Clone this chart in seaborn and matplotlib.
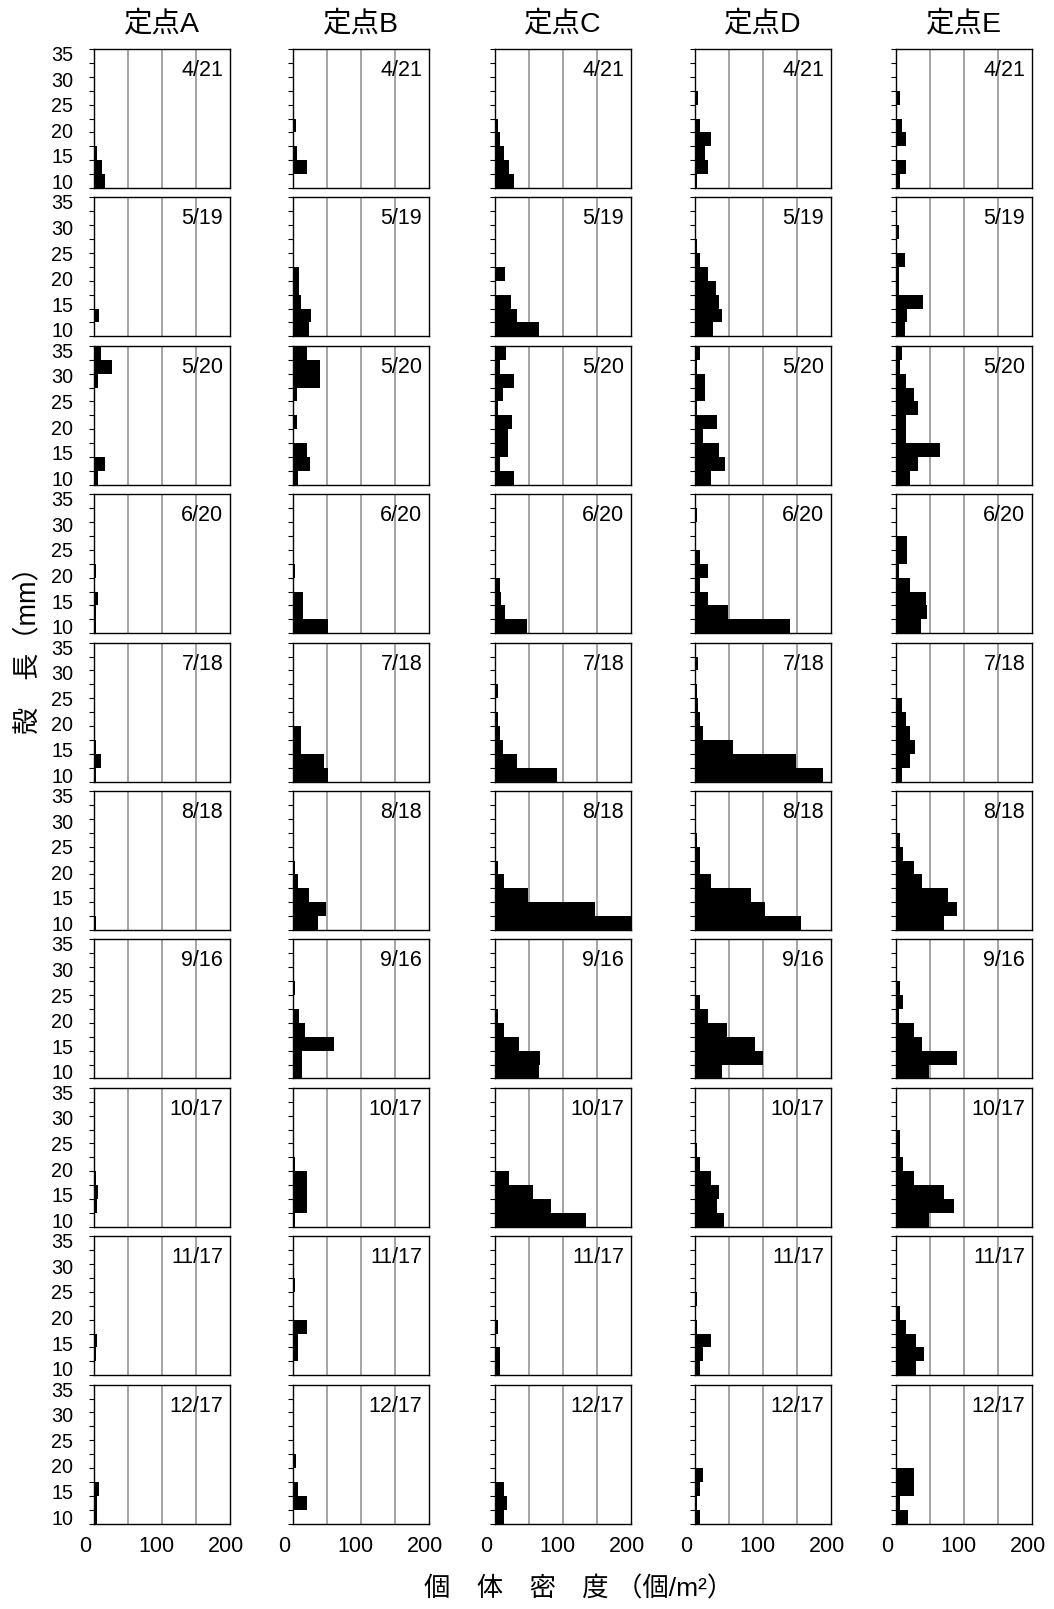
import numpy as np
import pandas as pd
import matplotlib
matplotlib.use("Agg")
import matplotlib.pyplot as plt
import seaborn as sns
from matplotlib.transforms import ScaledTranslation

sns.set_theme(style="white")
plt.rcParams["font.family"] = ["Liberation Sans", "Noto Sans CJK JP"]

# ---------------- data ----------------
sites = ["定点A", "定点B", "定点C", "定点D", "定点E"]
dates = ["4/21", "5/19", "5/20", "6/20", "7/18", "8/18", "9/16", "10/17", "11/17", "12/17"]
bin_edges = [10, 12.5, 15, 17.5, 20, 22.5, 25, 27.5, 30, 32.5, 35]
bin_centers = [11.25, 13.75, 16.25, 18.75, 21.25, 23.75, 26.25, 28.75, 31.25, 33.75]
x_ticks = [0, 100, 200]
y_labels = [10, 15, 20, 25, 30, 35]

# density (個/m2) per shell-length class (10-12.5, 12.5-15, ... 32.5-35 mm), one row per date
site_A = [
    [16, 12, 4, 0, 0, 0, 0, 0, 0, 0],
    [0, 7, 0, 0, 0, 0, 0, 0, 0, 0],
    [6, 16, 2, 2, 0, 0, 2, 6, 27, 10],
    [3, 3, 6, 0, 3, 0, 0, 0, 0, 0],
    [3, 10, 3, 0, 0, 0, 0, 0, 0, 0],
    [3, 0, 2, 2, 2, 2, 0, 0, 0, 0],
    [0, 2, 2, 2, 0, 0, 0, 0, 0, 0],
    [0, 4, 6, 3, 0, 0, 0, 0, 0, 0],
    [2, 3, 5, 2, 0, 0, 0, 0, 0, 0],
    [4, 4, 8, 0, 0, 0, 0, 0, 0, 0],
]
site_B = [
    [0, 20, 6, 0, 4, 0, 0, 0, 0, 0],
    [24, 27, 12, 9, 9, 0, 0, 0, 0, 0],
    [7, 25, 20, 0, 6, 0, 6, 40, 40, 20],
    [51, 15, 15, 0, 3, 0, 0, 0, 0, 0],
    [52, 45, 12, 12, 0, 0, 0, 0, 0, 0],
    [37, 48, 24, 7, 3, 0, 0, 0, 0, 0],
    [13, 13, 60, 18, 9, 0, 3, 0, 0, 0],
    [3, 20, 20, 20, 3, 0, 0, 0, 0, 0],
    [0, 7, 7, 20, 0, 0, 3, 0, 0, 0],
    [0, 21, 8, 0, 5, 0, 0, 0, 0, 0],
]
site_C = [
    [28, 20, 13, 8, 5, 0, 0, 0, 0, 0],
    [64, 32, 24, 0, 15, 0, 0, 0, 0, 0],
    [28, 8, 19, 19, 25, 4, 12, 28, 8, 16],
    [47, 15, 9, 7, 0, 0, 0, 0, 0, 0],
    [91, 32, 12, 7, 5, 0, 4, 0, 0, 0],
    [205, 147, 48, 13, 5, 0, 0, 0, 0, 0],
    [64, 66, 36, 13, 5, 0, 0, 0, 0, 0],
    [134, 83, 56, 20, 0, 0, 0, 0, 0, 0],
    [8, 8, 0, 5, 0, 0, 0, 0, 0, 0],
    [13, 17, 13, 0, 0, 0, 0, 0, 0, 0],
]
site_D = [
    [3, 19, 15, 24, 8, 0, 4, 0, 0, 0],
    [27, 39, 35, 31, 19, 7, 3.5, 0, 0, 0],
    [24, 44, 36, 12, 32, 3, 15, 15, 3, 8],
    [139, 48, 19, 7, 19, 7, 0, 0, 3, 0],
    [188, 148, 56, 12, 8, 4, 3, 0, 4, 0],
    [156, 103, 83, 23, 7, 7, 3.5, 0, 0, 0],
    [39, 100, 88, 47, 19, 7.5, 0, 0, 0, 0],
    [43, 32, 36, 23, 7.5, 3.5, 0, 0, 0, 0],
    [7.5, 12, 23, 3.5, 0, 3.5, 0, 0, 0, 0],
    [7.5, 3.5, 7.5, 12, 0, 0, 0, 0, 0, 0],
]
site_E = [
    [6, 14, 0, 14, 9, 0, 6, 0, 0, 0],
    [13, 16, 40, 4, 4, 13, 0, 5, 0, 0],
    [21, 33, 65, 14, 14, 33, 26, 14, 6, 9],
    [37, 45, 44, 21, 4, 16, 16, 0, 0, 0],
    [9, 21, 28, 21, 14, 9, 0, 0, 0, 0],
    [70, 89, 77, 38, 26, 10, 6, 0, 0, 0],
    [49, 89, 38, 26, 5, 10, 6, 0, 0, 0],
    [49, 85, 70, 26, 10, 6, 6, 0, 0, 0],
    [30, 41, 30, 15, 6, 0, 0, 0, 0, 0],
    [18, 6, 27, 27, 0, 0, 0, 0, 0, 0],
]
site_data = [site_A, site_B, site_C, site_D, site_E]

# ---------------- layout ----------------
W, H = 1054, 1609
fig = plt.figure(figsize=(W / 100, H / 100), dpi=100)
lefts = [94, 293, 495, 695, 896]
pw, ph = 136, 139
top0, dy = 49, 148.4
x_label_shift = [-9, -5.5, -4]  # px

for c, (site, data) in enumerate(zip(sites, site_data)):
    for r, date in enumerate(dates):
        top = top0 + r * dy
        ax = fig.add_axes([lefts[c] / W, 1 - (top + ph) / H, pw / W, ph / H])
        df = pd.DataFrame({"length": bin_centers, "density": data[r]})
        sns.histplot(data=df, y="length", weights="density", bins=bin_edges,
                     color="black", alpha=1, linewidth=0, ax=ax, zorder=2)
        ax.set_xlim(0, 200)
        ax.set_ylim(10, 35)
        for g in (50, 100, 150):
            ax.axvline(g, color="#8c8c8c", lw=1.1, zorder=1)
        ax.set_xlabel("")
        ax.set_ylabel("")
        for sp in ax.spines.values():
            sp.set_color("black")
            sp.set_linewidth(1.0)
            sp.set_visible(True)
        # y ticks
        ax.set_yticks(bin_edges, minor=True)
        ax.tick_params(axis="y", which="minor", left=True, length=3.5, width=0.8,
                       color="black", direction="out")
        if c == 0:
            pos = [22.68 + (v - 22.5) * 0.921 for v in y_labels]
            ax.set_yticks(pos)
            ax.set_yticklabels([str(v) for v in y_labels])
            ax.tick_params(axis="y", which="major", left=True, length=0, pad=15,
                           labelsize=14.2, labelcolor="black")
        else:
            ax.set_yticks([])
        # x ticks
        if r == len(dates) - 1:
            ax.set_xticks(x_ticks)
            ax.set_xticklabels([str(v) for v in x_ticks])
            ax.tick_params(axis="x", which="major", bottom=True, length=0, pad=9,
                           labelsize=15.5, labelcolor="black")
            for t, dx in zip(ax.xaxis.get_major_ticks(), x_label_shift):
                t.label1.set_transform(t.label1.get_transform() +
                                       ScaledTranslation(dx / 100, 0, fig.dpi_scale_trans))
        else:
            ax.set_xticks([])
        ax.text(0.95, 0.845, date, transform=ax.transAxes, ha="right", va="center",
                fontsize=15.5, color="black", zorder=3)
    fig.text((lefts[c] + pw / 2) / W, 1 - 24 / H, site, ha="center", va="center",
             fontsize=20.5, color="black")

fig.text(28 / W, 1 - 644 / H, "殻　長（mm）", rotation=90, ha="center", va="center",
         fontsize=19.5, color="black")
fig.text(579 / W, 1 - 1589 / H, "個　体　密　度 （個/m²）", ha="center", va="center",
         fontsize=19, color="black")

fig.savefig("out.png", dpi=100, facecolor="white")
